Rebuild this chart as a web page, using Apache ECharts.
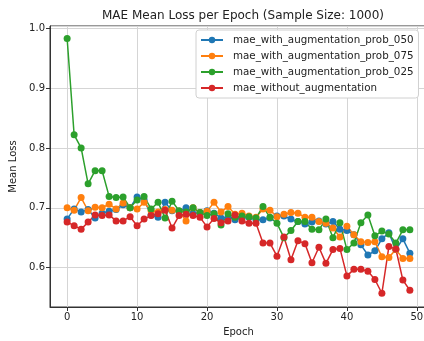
<!DOCTYPE html>
<html><head><meta charset="utf-8">
<script src="https://cdn.jsdelivr.net/npm/echarts@6/dist/echarts.min.js"></script>
<style>html,body{margin:0;padding:0;background:#fff}#c{width:424px;height:341px}</style>
</head><body><div id="c"></div>
<script>
const epochs = Array.from({length: 50}, (_, i) => i);
const seriesNames = ['mae_with_augmentation_prob_050','mae_with_augmentation_prob_075','mae_with_augmentation_prob_025','mae_without_augmentation'];
const prob050 = [0.681,0.698,0.693,0.697,0.683,0.691,0.694,0.697,0.705,0.700,0.718,0.713,0.688,0.684,0.709,0.695,0.694,0.700,0.690,0.692,0.695,0.691,0.683,0.684,0.680,0.683,0.684,0.680,0.680,0.683,0.686,0.686,0.681,0.677,0.673,0.676,0.678,0.673,0.677,0.664,0.662,0.655,0.638,0.621,0.628,0.648,0.658,0.630,0.648,0.624];
const prob075 = [0.700,0.696,0.717,0.695,0.701,0.700,0.706,0.698,0.708,0.700,0.698,0.709,0.695,0.693,0.697,0.696,0.694,0.678,0.700,0.692,0.694,0.709,0.693,0.702,0.689,0.691,0.686,0.684,0.698,0.696,0.685,0.689,0.692,0.691,0.684,0.684,0.677,0.674,0.666,0.651,0.669,0.655,0.643,0.642,0.643,0.618,0.617,0.630,0.615,0.615];
const prob025 = [0.983,0.822,0.800,0.740,0.762,0.762,0.719,0.717,0.718,0.700,0.713,0.719,0.698,0.709,0.683,0.711,0.695,0.693,0.700,0.692,0.687,0.690,0.671,0.690,0.684,0.686,0.685,0.683,0.702,0.684,0.674,0.650,0.662,0.677,0.677,0.664,0.663,0.681,0.650,0.675,0.630,0.641,0.675,0.688,0.653,0.661,0.656,0.641,0.663,0.663];
const noAug = [0.676,0.670,0.664,0.676,0.688,0.687,0.688,0.678,0.678,0.685,0.670,0.681,0.687,0.690,0.696,0.666,0.687,0.689,0.687,0.684,0.668,0.682,0.675,0.678,0.688,0.678,0.674,0.674,0.641,0.641,0.619,0.651,0.613,0.645,0.640,0.608,0.634,0.607,0.630,0.632,0.586,0.597,0.597,0.594,0.580,0.557,0.635,0.631,0.579,0.562];
const colors = ['#1f77b4','#ff7f0e','#2ca02c','#d62728'];
const allData = [prob050, prob075, prob025, noAug];

const chart = echarts.init(document.getElementById('c'), null, {renderer: 'canvas'});
const font = 'DejaVu Sans';
chart.setOption({
  animation: false,
  color: colors,
  title: {text: 'MAE Mean Loss per Epoch (Sample Size: 1000)', left: 238, top: 5, textAlign: 'center',
    textStyle: {fontFamily: font, fontSize: 12, fontWeight: 'normal', color: '#222'}},
  grid: {left: 50, top: 26, right: -3, bottom: 34, outerBoundsMode: 'none', containLabel: false,
    show: true, borderColor: '#333', borderWidth: 1, backgroundColor: 'transparent'},
  legend: {orient: 'vertical', left: 196, top: 30, itemWidth: 22, itemHeight: 8, itemGap: 4,
    backgroundColor: '#fff', borderColor: '#d0d0d0', borderWidth: 1, borderRadius: 3, padding: [4, 5, 4, 4],
    textStyle: {fontFamily: font, fontSize: 10.3, color: '#222', lineHeight: 12, padding: [0, 0, 0, 5]},
    data: seriesNames},
  xAxis: {type: 'value', min: -2.45, max: 51.45, name: 'Epoch', nameLocation: 'middle', nameGap: 20,
    nameTextStyle: {fontFamily: font, fontSize: 10, color: '#222'},
    axisLine: {show: true, onZero: false, lineStyle: {color: '#333'}},
    axisTick: {show: true, inside: false, length: 4, lineStyle: {color: '#333'}},
    axisLabel: {fontFamily: font, fontSize: 10, color: '#222', margin: 5, showMinLabel: false, showMaxLabel: false},
    splitLine: {show: true, lineStyle: {color: '#d5d5d5', width: 1}}},
  yAxis: {type: 'value', min: 0.534, max: 1.004, name: 'Mean Loss', nameLocation: 'middle', nameGap: 32,
    nameTextStyle: {fontFamily: font, fontSize: 10, color: '#222'},
    axisLine: {show: true, onZero: false, lineStyle: {color: '#333'}},
    axisTick: {show: true, inside: false, length: 4, lineStyle: {color: '#333'}},
    axisLabel: {fontFamily: font, fontSize: 10, color: '#222', margin: 5, showMinLabel: false, showMaxLabel: false,
      formatter: v => v.toFixed(1)},
    splitLine: {show: true, lineStyle: {color: '#d5d5d5', width: 1}}},
  series: seriesNames.map((n, i) => ({
    name: n, type: 'line', data: epochs.map((e, j) => [e, allData[i][j]]),
    symbol: 'circle', symbolSize: 7, showSymbol: true,
    lineStyle: {width: 1.5, color: colors[i]}, itemStyle: {color: colors[i]}
  }))
});
</script></body></html>
